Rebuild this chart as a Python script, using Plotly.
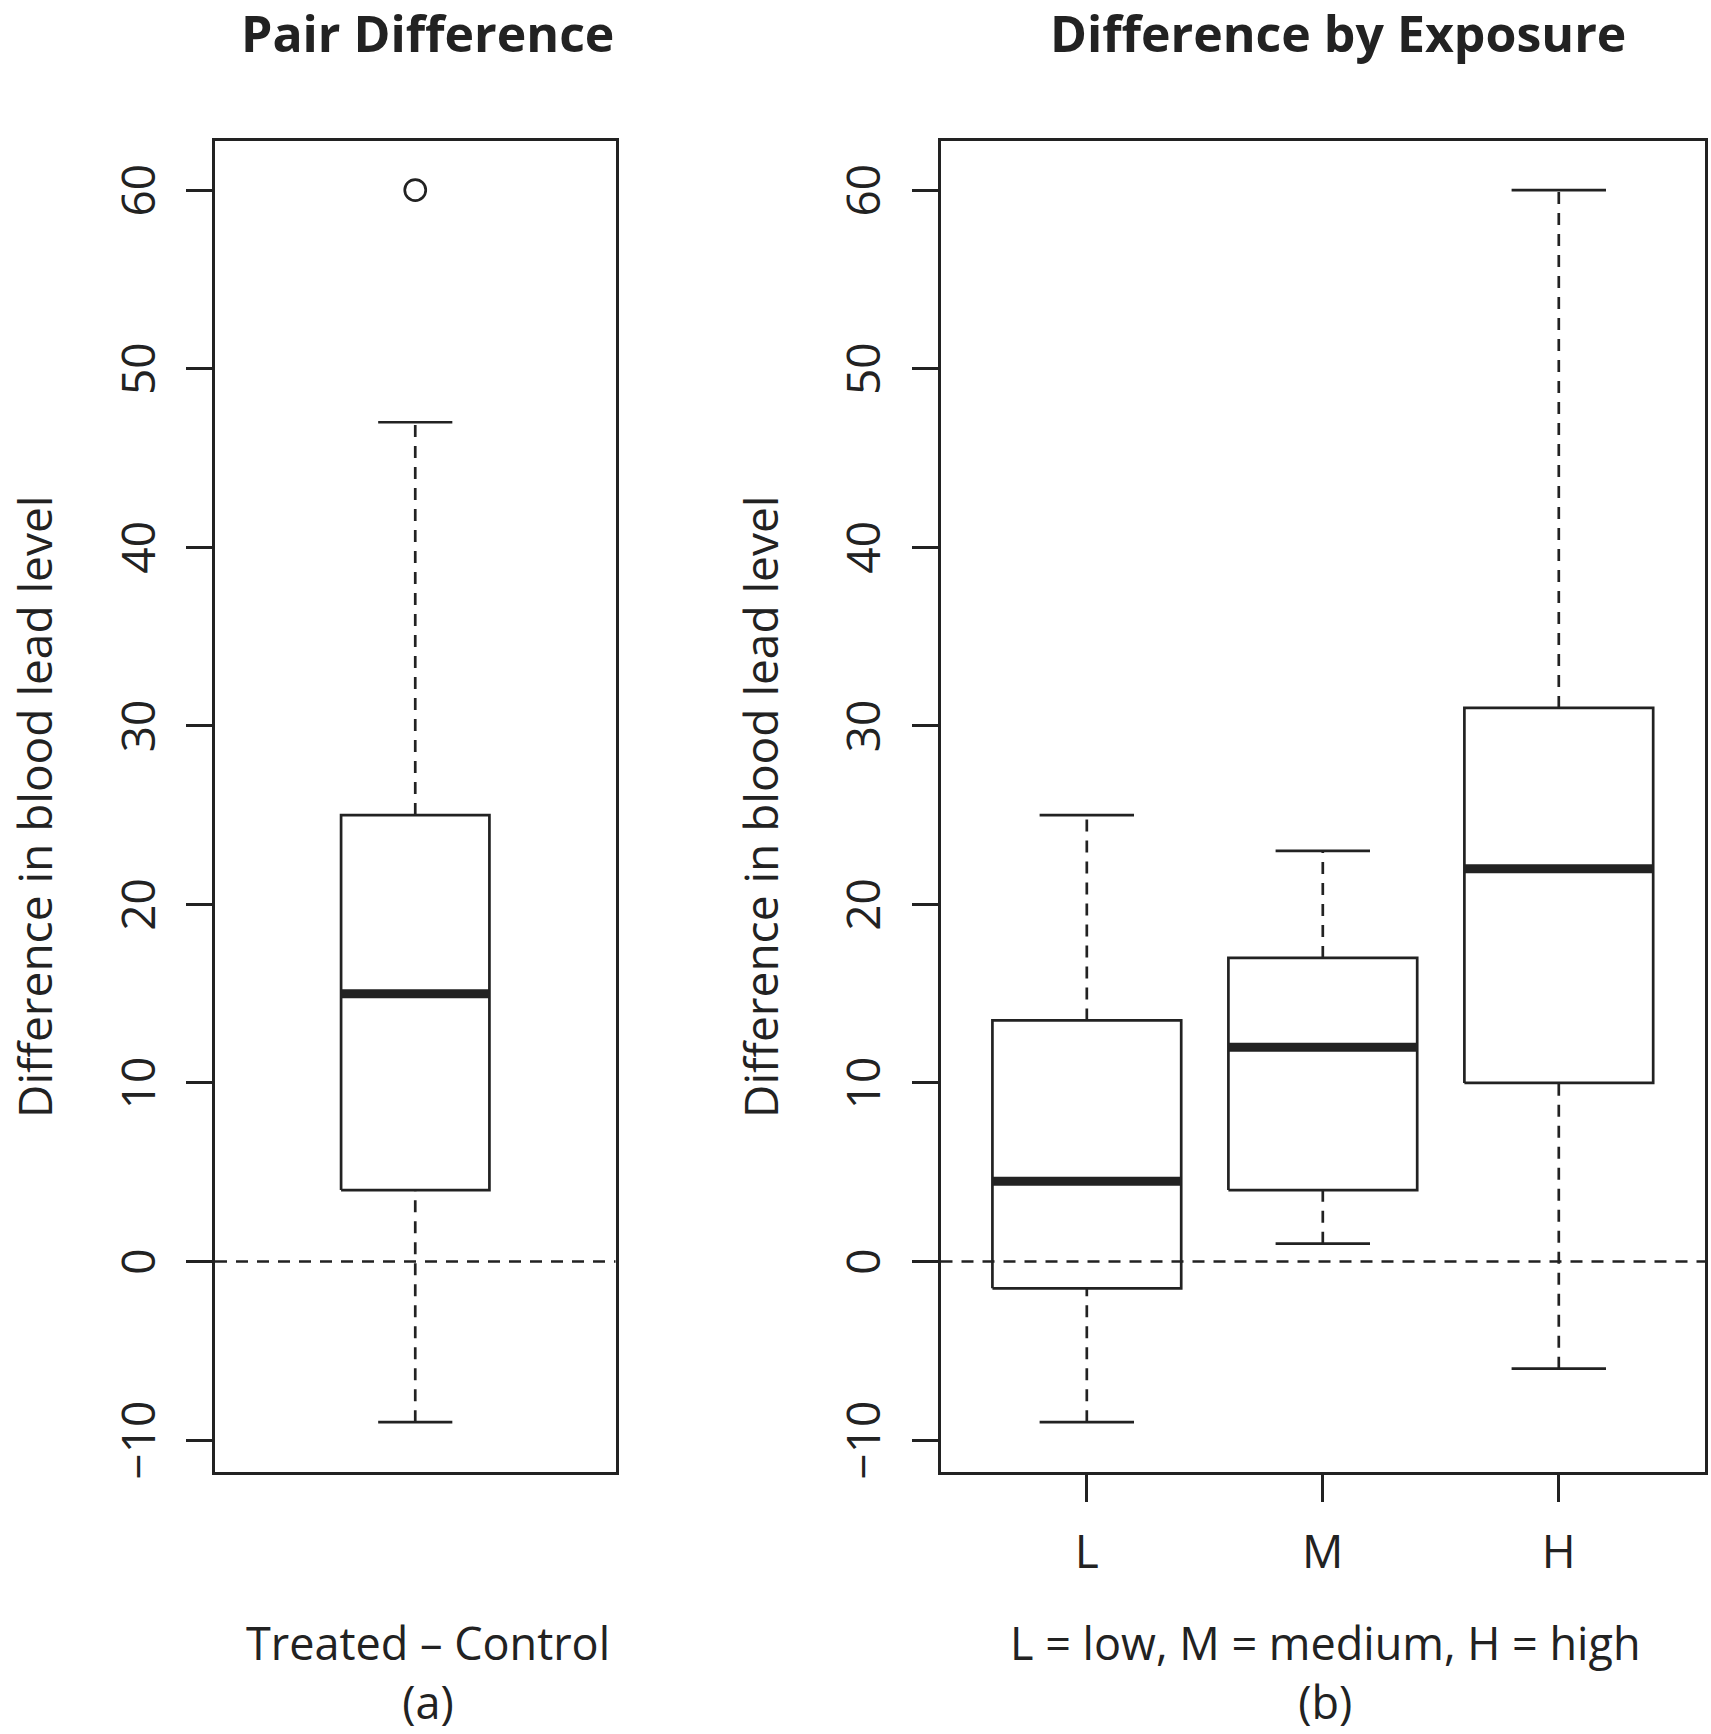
import plotly.graph_objects as go

# ---------------- data ----------------
pair_label = ["Treated – Control"]
pair_low = [-9]
pair_q1 = [4]
pair_med = [15]
pair_q3 = [25]
pair_high = [47]
pair_outliers = [60]

exp_labels = ["L", "M", "H"]
exp_low = [-9, 1, -6]
exp_q1 = [-1.5, 4, 10]
exp_med = [4.5, 12, 22]
exp_q3 = [13.5, 17, 31]
exp_high = [25, 23, 60]

y_ticks = [-10, 0, 10, 20, 30, 40, 50, 60]

# ---------------- style ----------------
W, H = 1711, 1734
INK = "#222222"
FONT = "Open Sans"
FS = 46
LW = 2.7
DASH = "12px,9px"
INSET = 1.5   # axis lines are drawn just outside the domain


def px(X):
    return X / W


def py(Y):
    return 1 - Y / H


fig = go.Figure()


def add_boxes(xa, ya, centers, low, q1, med, q3, high, half, staple_half):
    for c, lo, a, m, b, hi in zip(centers, low, q1, med, q3, high):
        fig.add_trace(go.Scatter(x=[c, c, None, c, c], y=[lo, a, None, b, hi],
                                 mode="lines", xaxis=xa, yaxis=ya, showlegend=False,
                                 line=dict(color=INK, width=LW, dash=DASH), hoverinfo="skip"))
        fig.add_trace(go.Scatter(x=[c - staple_half, c + staple_half, None, c - staple_half, c + staple_half],
                                 y=[lo, lo, None, hi, hi],
                                 mode="lines", xaxis=xa, yaxis=ya, showlegend=False,
                                 line=dict(color=INK, width=LW), hoverinfo="skip"))
        fig.add_trace(go.Scatter(x=[c - half, c + half, c + half, c - half, c - half],
                                 y=[a, a, b, b, a], mode="lines", xaxis=xa, yaxis=ya,
                                 showlegend=False, fill="toself", fillcolor="white",
                                 line=dict(color=INK, width=LW), hoverinfo="skip"))
        fig.add_trace(go.Scatter(x=[c - half, c + half], y=[m, m], mode="lines",
                                 xaxis=xa, yaxis=ya, showlegend=False,
                                 line=dict(color=INK, width=9), hoverinfo="skip"))


add_boxes("x", "y", [1], pair_low, pair_q1, pair_med, pair_q3, pair_high, 0.2, 0.1)
fig.add_trace(go.Scatter(x=[1] * len(pair_outliers), y=pair_outliers, mode="markers",
                         xaxis="x", yaxis="y", showlegend=False,
                         marker=dict(symbol="circle-open", size=21, color=INK, line=dict(width=LW))))

add_boxes("x2", "y2", [1, 2, 3], exp_low, exp_q1, exp_med, exp_q3, exp_high, 0.4, 0.2)

for xr, yr in [("x domain", "y"), ("x2 domain", "y2")]:
    fig.add_shape(type="line", xref=xr, yref=yr, x0=0, x1=1, y0=0, y1=0,
                  line=dict(color=INK, width=LW, dash=DASH), layer="above")

yrange = [-11.76, 62.76]
axis_common = dict(showline=True, mirror=True, linecolor=INK, linewidth=3,
                   showgrid=False, zeroline=False, automargin=False)
ytick_common = dict(ticks="outside", ticklen=26, tickwidth=LW, tickcolor=INK, tickangle=-90,
                    ticklabelstandoff=13, ticklabelshift=7, tickfont=dict(size=FS))

ydom = [py(1473 - INSET), py(139.3 + INSET)]
fig.update_layout(
    width=W, height=H,
    margin=dict(l=0, r=0, t=0, b=0, pad=0),
    paper_bgcolor="white", plot_bgcolor="white",
    font=dict(family=FONT, size=FS, color=INK),
    showlegend=False,
    xaxis=dict(domain=[px(213.5 + INSET), px(617 - INSET)], range=[0.46, 1.54],
               showticklabels=False, ticks="", **axis_common),
    yaxis=dict(domain=ydom, range=yrange, tickvals=y_ticks,
               **ytick_common, **axis_common),
    xaxis2=dict(domain=[px(939 + INSET), px(1706.6 - INSET)], range=[0.38, 3.62], anchor="y2",
                tickvals=[1, 2, 3], ticktext=exp_labels,
                ticks="outside", ticklen=27, tickwidth=LW, tickcolor=INK,
                ticklabelstandoff=11, tickfont=dict(size=FS), **axis_common),
    yaxis2=dict(domain=ydom, range=yrange, anchor="x2",
                tickvals=y_ticks, **ytick_common, **axis_common),
)

ann = [
    dict(text="<b>Pair Difference</b>", x=427.5, y=33, size=50),
    dict(text="<b>Difference by Exposure</b>", x=1338, y=33, size=50),
]
for a in ann:
    fig.add_annotation(text=a["text"], x=px(a["x"]), y=py(a["y"]), xref="paper", yref="paper",
                       xanchor="center", yanchor="middle", showarrow=False,
                       font=dict(size=a["size"], family=FONT, color=INK))

for txt, xc in [(pair_label[0] + "<br>(a)", 428), ("L = low, M = medium, H = high<br>(b)", 1325)]:
    fig.add_annotation(text=txt, x=px(xc), y=0, xref="paper", yref="paper",
                       xanchor="center", yanchor="bottom", align="center", showarrow=False,
                       font=dict(size=45, family=FONT, color=INK))

for xpos in [34, 760]:
    fig.add_annotation(text="Difference in blood lead level", x=px(xpos), y=py(807),
                       xref="paper", yref="paper", xanchor="center", yanchor="middle",
                       textangle=-90, showarrow=False, font=dict(size=FS, family=FONT, color=INK))

fig.write_html("out.html", config={"displayModeBar": False},
               post_script="document.body.style.margin='0';document.body.style.overflow='hidden';")
